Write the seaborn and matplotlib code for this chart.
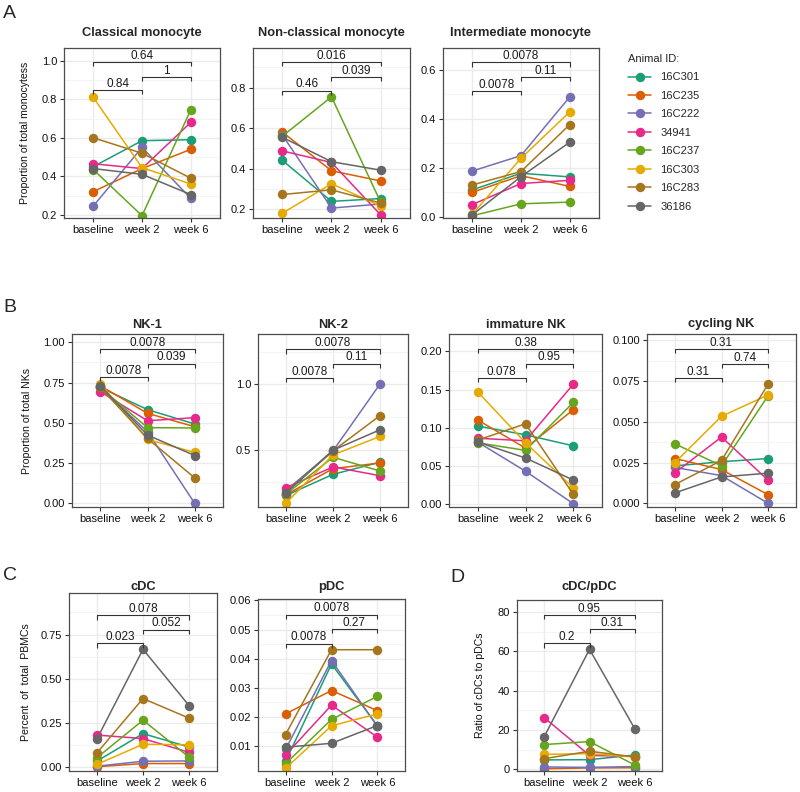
import matplotlib
matplotlib.use('Agg')
import matplotlib.pyplot as plt
from matplotlib.ticker import FixedLocator, AutoMinorLocator, FormatStrFormatter, NullLocator
import numpy as np
import pandas as pd
import seaborn as sns

sns.set_style('white')
plt.rcParams['font.family'] = ['Liberation Sans', 'DejaVu Sans']

# ---------------- data ----------------
ANIMALS = ['16C301', '16C235', '16C222', '34941', '16C237', '16C303', '16C283', '36186']
TIMES = ['baseline', 'week 2', 'week 6']
COLORS = sns.color_palette('Dark2', 8)

# rows: animals (order above); columns: baseline, week 2, week 6
CLASSICAL = [[0.45, 0.585, 0.59], [0.32, 0.44, 0.54], [0.245, 0.55, 0.285], [0.465, 0.44, 0.68],
             [0.435, 0.195, 0.745], [0.81, 0.445, 0.36], [0.60, 0.52, 0.39], [0.44, 0.41, 0.305]]
NONCLASSICAL = [[0.44, 0.238, 0.252], [0.58, 0.389, 0.339], [0.565, 0.205, 0.225], [0.487, 0.43, 0.172],
                [0.56, 0.754, 0.235], [0.18, 0.325, 0.215], [0.272, 0.295, 0.23], [0.554, 0.434, 0.392]]
INTERMEDIATE = [[0.11, 0.178, 0.163], [0.10, 0.168, 0.124], [0.187, 0.25, 0.49], [0.05, 0.136, 0.149],
                [0.004, 0.053, 0.06], [0.01, 0.239, 0.429], [0.13, 0.185, 0.377], [0.008, 0.164, 0.305]]
NK1 = [[0.72, 0.582, 0.493], [0.73, 0.559, 0.476], [0.72, 0.445, 0.0], [0.694, 0.513, 0.532],
       [0.72, 0.47, 0.468], [0.742, 0.397, 0.316], [0.72, 0.403, 0.158], [0.73, 0.424, 0.297]]
NK2 = [[0.149, 0.31, 0.403], [0.154, 0.354, 0.397], [0.187, 0.49, 1.0], [0.208, 0.367, 0.30],
       [0.16, 0.441, 0.336], [0.09, 0.459, 0.60], [0.17, 0.49, 0.759], [0.17, 0.495, 0.651]]
IMMATURE_NK = [[0.102, 0.0905, 0.076], [0.110, 0.073, 0.1235], [0.081, 0.0426, 0.0], [0.086, 0.0826, 0.157],
               [0.080, 0.070, 0.133], [0.147, 0.080, 0.0207], [0.0835, 0.105, 0.0123], [0.081, 0.060, 0.031]]
CYCLING_NK = [[0.023, 0.0255, 0.0275], [0.0275, 0.0207, 0.0053], [0.022, 0.017, 0.0], [0.0187, 0.0407, 0.0142],
              [0.0365, 0.023, 0.066], [0.025, 0.0534, 0.0665], [0.0115, 0.0263, 0.0731], [0.0064, 0.0162, 0.0185]]
CDC = [[0.035, 0.191, 0.115], [0.004, 0.022, 0.022], [0.007, 0.035, 0.037], [0.183, 0.163, 0.085],
       [0.054, 0.267, 0.057], [0.017, 0.131, 0.128], [0.081, 0.389, 0.278], [0.159, 0.667, 0.348]]
PDC = [[0.0048, 0.0382, 0.017], [0.0211, 0.0291, 0.0222], [0.0089, 0.0394, 0.0168], [0.007, 0.0241, 0.0131],
       [0.004, 0.0192, 0.0271], [0.0024, 0.017, 0.0211], [0.014, 0.0431, 0.0431], [0.00966, 0.011, 0.0171]]
RATIO = [[4.8, 4.9, 7.3], [0.3, 0.7, 0.8], [1.2, 1.0, 1.4], [26.3, 7.1, 6.5],
         [12.6, 14.1, 2.2], [7.6, 8.0, 6.3], [5.4, 9.2, 6.3], [16.6, 61.0, 20.6]]

# p-values for (baseline vs week 2), (week 2 vs week 6), (baseline vs week 6)
BRACKET_PAIRS = [(0, 1), (1, 2), (0, 2)]
P_CLASSICAL = ['0.84', '1', '0.64'];        H_CLASSICAL = [0.848, 0.917, 0.995]
P_NONCLASSICAL = ['0.46', '0.039', '0.016']; H_NONCLASSICAL = [0.784, 0.851, 0.925]
P_INTERMEDIATE = ['0.0078', '0.11', '0.0078']; H_INTERMEDIATE = [0.515, 0.572, 0.631]
P_NK1 = ['0.0078', '0.039', '0.0078'];      H_NK1 = [0.784, 0.867, 0.958]
P_NK2 = ['0.0078', '0.11', '0.0078'];       H_NK2 = [1.046, 1.159, 1.267]
P_IMMATURE = ['0.078', '0.95', '0.38'];     H_IMMATURE = [0.165, 0.184, 0.203]
P_CYCLING = ['0.31', '0.74', '0.31'];       H_CYCLING = [0.077, 0.0856, 0.0945]
P_CDC = ['0.023', '0.052', '0.078'];        H_CDC = [0.70, 0.778, 0.859]
P_PDC = ['0.0078', '0.27', '0.0078'];       H_PDC = [0.0452, 0.0501, 0.0551]
P_RATIO = ['0.2', '0.31', '0.95'];          H_RATIO = [64.0, 71.2, 78.5]

# ---------------- figure ----------------
W, H = 800, 792
fig = plt.figure(figsize=(W / 100, H / 100), dpi=100)
fig.patch.set_facecolor('white')

GRID_MAJOR = '#EBEBEB'
GRID_MINOR = '#F2F2F2'
SPINE = '#4D4D4D'


def panel(box, values, title, title_yc, ylim, ticks, fmt, pvals, pheights,
          ylabel=None, ylabel_x=None):
    l, t, r, b = box
    ax = fig.add_axes([l / W, 1 - b / H, (r - l) / W, (b - t) / H])
    rows = []
    for a, vals in zip(ANIMALS, values):
        for tm, v in zip(TIMES, vals):
            rows.append((a, tm, v))
    df = pd.DataFrame(rows, columns=['animal', 'time', 'value'])
    sns.lineplot(data=df, x='time', y='value', hue='animal', hue_order=ANIMALS,
                 palette=COLORS, marker='o', markersize=6.8, markeredgewidth=0,
                 linewidth=1.1, sort=False, errorbar=None, legend=False, ax=ax)
    handles = list(ax.lines[:len(ANIMALS)])
    ax.set_xlim(-0.6, 2.6)
    ax.set_ylim(*ylim)
    ax.yaxis.set_major_locator(FixedLocator(ticks))
    ax.yaxis.set_major_formatter(FormatStrFormatter(fmt))
    ax.yaxis.set_minor_locator(AutoMinorLocator(2))
    ax.xaxis.set_minor_locator(NullLocator())
    ax.set_axisbelow(True)
    ax.grid(which='major', color=GRID_MAJOR, lw=1.0)
    ax.grid(which='minor', axis='y', color=GRID_MINOR, lw=0.6)
    for s in ax.spines.values():
        s.set_color(SPINE)
        s.set_linewidth(0.9)
    ax.tick_params(which='major', length=3, width=0.8, color='#333333',
                   labelsize=8, labelcolor='#111111', pad=2, left=True, bottom=True)
    ax.tick_params(which='minor', length=0)
    ax.set_xlabel('')
    if ylabel:
        ax.set_ylabel(ylabel, fontsize=7.6, color='#111111')
        ax.yaxis.set_label_coords(ylabel_x, 0.5)
    else:
        ax.set_ylabel('')
    ty = 1 + (t - title_yc) / (b - t)
    ax.set_title(title, fontsize=9.3, fontweight='bold', y=ty, va='center', pad=0)
    tip = 0.024 * (ylim[1] - ylim[0])
    for (i, j), lab, h in zip(BRACKET_PAIRS, pvals, pheights):
        ax.plot([i, i, j, j], [h - tip, h, h, h - tip], color='#333333', lw=0.8,
                clip_on=False, solid_capstyle='butt')
        ax.annotate(lab, xy=((i + j) / 2, h), xytext=(0, 0.2), textcoords='offset points',
                    ha='center', va='bottom', fontsize=8.5, color='#1a1a1a')
    return ax, handles


# Panel A
axA1, handles = panel((64, 48, 220, 218), CLASSICAL, 'Classical monocyte', 33, (0.183, 1.067),
                      [0.2, 0.4, 0.6, 0.8, 1.0], '%.1f', P_CLASSICAL, H_CLASSICAL,
                      'Proportion of total monocytess', -0.218)
panel((253, 48, 410, 218), NONCLASSICAL, 'Non-classical monocyte', 33, (0.156, 0.995),
      [0.2, 0.4, 0.6, 0.8], '%.1f', P_NONCLASSICAL, H_NONCLASSICAL)
panel((443, 48, 599, 218), INTERMEDIATE, 'Intermediate monocyte', 33, (-0.005, 0.69),
      [0.0, 0.2, 0.4, 0.6], '%.1f', P_INTERMEDIATE, H_INTERMEDIATE)

# Panel B
panel((72, 334, 223, 507), NK1, 'NK-1', 324.5, (-0.023, 1.052),
      [0.0, 0.25, 0.5, 0.75, 1.0], '%.2f', P_NK1, H_NK1, 'Proportion of total NKs', -0.265)
panel((258, 334, 408, 507), NK2, 'NK-2', 324.5, (0.06, 1.385),
      [0.5, 1.0], '%.1f', P_NK2, H_NK2)
panel((449, 334, 602, 507), IMMATURE_NK, 'immature NK', 324.5, (-0.0044, 0.223),
      [0.0, 0.05, 0.10, 0.15, 0.20], '%.2f', P_IMMATURE, H_IMMATURE)
panel((647, 334, 796, 507), CYCLING_NK, 'cycling NK', 324.5, (-0.00226, 0.1039),
      [0.0, 0.025, 0.05, 0.075, 0.10], '%.3f', P_CYCLING, H_CYCLING)

# Panel C
panel((69, 593, 217, 771), CDC, 'cDC', 587, (-0.02, 0.985),
      [0.0, 0.25, 0.5, 0.75], '%.2f', P_CDC, H_CDC, 'Percent  of  total  PBMCs', -0.257)
panel((258, 599, 405, 771), PDC, 'pDC', 587, (0.0015, 0.0605),
      [0.01, 0.02, 0.03, 0.04, 0.05, 0.06], '%.2f', P_PDC, H_PDC)

# Panel D
panel((517, 600, 662, 771), RATIO, 'cDC/pDC', 587, (-0.85, 86.1),
      [0, 20, 40, 60, 80], '%d', P_RATIO, H_RATIO, 'Ratio of cDCs to pDCs', -0.22)

# Legend
leg = fig.legend(handles, ANIMALS, title='Animal ID:', loc='upper left',
                 bbox_to_anchor=(628 / W, 1 - 54 / H), frameon=False, fontsize=8,
                 title_fontsize=8, handlelength=2.1, handletextpad=0.8,
                 labelspacing=0.76, borderpad=0, borderaxespad=0)
leg._legend_box.align = 'left'

# Panel letters
for letter, x, y in [('A', 3, 13), ('B', 3, 308), ('C', 3, 576), ('D', 450, 577)]:
    fig.text(x / W, 1 - y / H, letter, fontsize=14, va='center', ha='left')

fig.savefig('out.png', dpi=100, facecolor='white')
